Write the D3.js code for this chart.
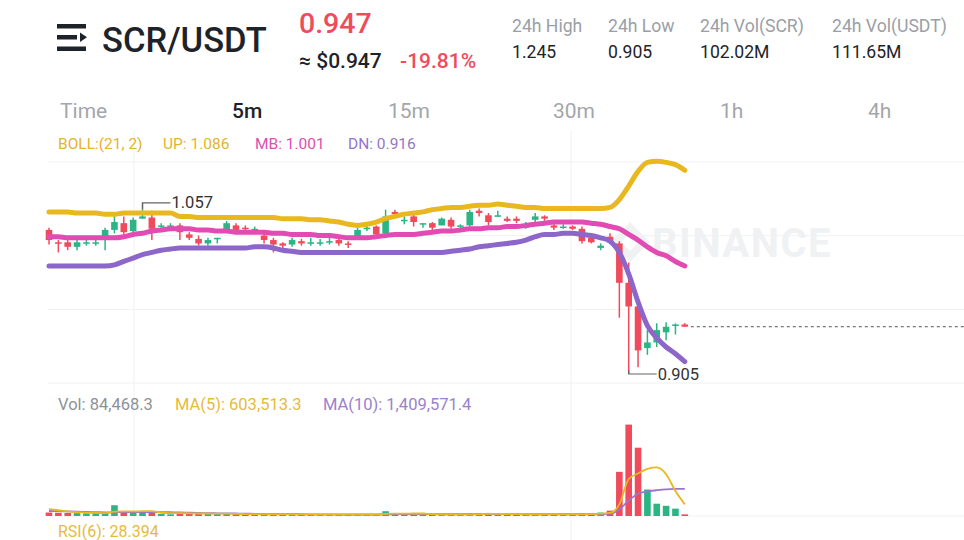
<!DOCTYPE html>
<html>
<head>
<meta charset="utf-8">
<script src="https://cdn.jsdelivr.net/npm/d3@7"></script>
<style>
  body { margin: 0; background: #fff; }
  svg { display: block; font-family: Roboto, "Noto Sans", sans-serif; }
</style>
</head>
<body>
<div id="container"></div>
<script>
// candles, 5m, oldest -> newest
let open = [1.033, 1.022, 1.022, 1.018, 1.021, 1.021, 1.027, 1.033, 1.039, 1.032,
  1.043, 1.044, 1.036, 1.036, 1.037, 1.029, 1.025, 1.021, 1.025, 1.033,
  1.037, 1.035, 1.033, 1.028, 1.024, 1.021, 1.020, 1.023, 1.021, 1.021,
  1.022, 1.024, 1.021, 1.027, 1.034, 1.036, 1.030, 1.049, 1.041, 1.045,
  1.038, 1.039, 1.037, 1.042, 1.036, 1.037, 1.050, 1.046, 1.045, 1.043,
  1.043, 1.035, 1.042, 1.045, 1.037, 1.035, 1.036, 1.034, 1.026, 1.017,
  1.027, 1.021, 0.986, 0.965, 0.928, 0.933, 0.942, 0.948, 0.949]
let high = [1.035, 1.024, 1.024, 1.024, 1.024, 1.024, 1.035, 1.046, 1.045, 1.044,
  1.057, 1.050, 1.039, 1.039, 1.039, 1.031, 1.028, 1.026, 1.026, 1.041,
  1.039, 1.037, 1.036, 1.030, 1.026, 1.022, 1.026, 1.025, 1.026, 1.025,
  1.026, 1.026, 1.023, 1.035, 1.037, 1.037, 1.051, 1.051, 1.045, 1.047,
  1.039, 1.040, 1.044, 1.044, 1.038, 1.051, 1.052, 1.048, 1.050, 1.045,
  1.045, 1.040, 1.048, 1.046, 1.039, 1.038, 1.037, 1.036, 1.028, 1.021,
  1.030, 1.023, 1.004, 0.966, 0.944, 0.950, 0.951, 0.950, 0.950]
let low = [1.020, 1.013, 1.015, 1.015, 1.019, 1.019, 1.015, 1.030, 1.029, 1.031,
  1.043, 1.024, 1.035, 1.034, 1.024, 1.024, 1.019, 1.019, 1.021, 1.031,
  1.031, 1.033, 1.031, 1.021, 1.013, 1.015, 1.018, 1.019, 1.019, 1.019,
  1.020, 1.019, 1.017, 1.025, 1.032, 1.027, 1.029, 1.045, 1.038, 1.036,
  1.035, 1.033, 1.037, 1.034, 1.035, 1.036, 1.045, 1.037, 1.045, 1.040,
  1.039, 1.034, 1.040, 1.041, 1.033, 1.034, 1.033, 1.021, 1.021, 1.015,
  1.021, 0.955, 0.905, 0.911, 0.922, 0.929, 0.935, 0.940, 0.947]
let close = [1.024, 1.021, 1.018, 1.022, 1.022, 1.022, 1.033, 1.040, 1.031, 1.042,
  1.045, 1.034, 1.037, 1.037, 1.031, 1.026, 1.021, 1.024, 1.026, 1.039,
  1.033, 1.034, 1.034, 1.024, 1.020, 1.019, 1.024, 1.021, 1.022, 1.022,
  1.023, 1.021, 1.020, 1.033, 1.035, 1.029, 1.045, 1.047, 1.042, 1.040,
  1.039, 1.035, 1.043, 1.036, 1.037, 1.049, 1.048, 1.040, 1.046, 1.041,
  1.041, 1.037, 1.045, 1.043, 1.035, 1.036, 1.034, 1.023, 1.022, 1.019,
  1.022, 0.986, 0.965, 0.926, 0.933, 0.944, 0.947, 0.949, 0.947]

// BOLL(21, 2)
let bollUp = [1.049, 1.049, 1.049, 1.048, 1.048, 1.048, 1.047, 1.047, 1.048, 1.048,
  1.048, 1.048, 1.048, 1.048, 1.045, 1.045, 1.044, 1.044, 1.044, 1.044,
  1.044, 1.044, 1.044, 1.044, 1.044, 1.043, 1.043, 1.043, 1.042, 1.042,
  1.041, 1.040, 1.038, 1.037, 1.038, 1.040, 1.043, 1.045, 1.047, 1.048,
  1.049, 1.051, 1.052, 1.053, 1.053, 1.054, 1.055, 1.055, 1.056, 1.055,
  1.054, 1.053, 1.053, 1.052, 1.052, 1.052, 1.052, 1.052, 1.052, 1.052,
  1.053, 1.060, 1.072, 1.085, 1.093, 1.094, 1.093, 1.091, 1.086]
let bollMb = [1.027, 1.027, 1.026, 1.026, 1.026, 1.026, 1.026, 1.026, 1.027, 1.029,
  1.030, 1.032, 1.033, 1.034, 1.034, 1.034, 1.033, 1.033, 1.032, 1.032,
  1.031, 1.031, 1.031, 1.031, 1.030, 1.030, 1.029, 1.029, 1.029, 1.028,
  1.028, 1.027, 1.026, 1.026, 1.026, 1.027, 1.028, 1.029, 1.029, 1.029,
  1.030, 1.031, 1.032, 1.032, 1.033, 1.034, 1.034, 1.035, 1.035, 1.036,
  1.036, 1.037, 1.038, 1.039, 1.040, 1.040, 1.040, 1.040, 1.039, 1.038,
  1.036, 1.034, 1.029, 1.024, 1.018, 1.013, 1.010, 1.005, 1.001]
let bollDn = [1.001, 1.001, 1.001, 1.001, 1.001, 1.001, 1.001, 1.002, 1.005, 1.008,
  1.011, 1.013, 1.015, 1.016, 1.017, 1.017, 1.017, 1.017, 1.017, 1.017,
  1.017, 1.017, 1.018, 1.018, 1.017, 1.015, 1.014, 1.013, 1.013, 1.013,
  1.013, 1.013, 1.013, 1.013, 1.013, 1.013, 1.013, 1.013, 1.013, 1.013,
  1.013, 1.013, 1.013, 1.014, 1.015, 1.016, 1.018, 1.019, 1.020, 1.021,
  1.022, 1.024, 1.027, 1.029, 1.029, 1.030, 1.030, 1.029, 1.028, 1.026,
  1.023, 1.013, 0.994, 0.969, 0.948, 0.937, 0.929, 0.923, 0.916]

// volume + MA(5) / MA(10)
let volume = [180000, 170000, 160000, 150000, 140000, 150000, 160000, 560000, 170000, 160000,
  180000, 200000, 110000, 90000, 170000, 150000, 140000, 120000, 110000, 130000,
  100000, 70000, 60000, 90000, 110000, 90000, 80000, 70000, 60000, 70000,
  60000, 90000, 60000, 80000, 60000, 70000, 250000, 120000, 90000, 110000,
  70000, 60000, 50000, 90000, 60000, 120000, 110000, 160000, 80000, 60000,
  90000, 60000, 110000, 70000, 110000, 60000, 60000, 140000, 120000, 180000,
  280000, 2300000, 4760000, 3558148, 1380000, 640000, 530000, 383098, 84468.3]
let volMa5 = [360000, 300000, 240000, 200000, 175000, 160000, 150000, 230000, 240000, 240000,
  250000, 250000, 170000, 150000, 150000, 140000, 130000, 130000, 120000, 120000,
  110000, 100000, 95000, 90000, 90000, 85000, 85000, 85000, 80000, 75000,
  70000, 70000, 70000, 70000, 70000, 70000, 110000, 120000, 120000, 130000,
  130000, 90000, 80000, 70000, 70000, 75000, 85000, 110000, 110000, 100000,
  100000, 90000, 80000, 80000, 90000, 80000, 80000, 90000, 100000, 120000,
  160000, 604000, 1928000, 2215600, 2455600, 2527600, 2173600, 1298200, 603513.3]
let volMa10 = [260000, 250000, 240000, 225000, 210000, 200000, 190000, 195000, 200000, 200000,
  205000, 205000, 200000, 195000, 190000, 175000, 160000, 150000, 140000, 135000,
  130000, 120000, 115000, 110000, 105000, 100000, 95000, 90000, 88000, 85000,
  82000, 80000, 78000, 78000, 78000, 78000, 88000, 95000, 95000, 100000,
  100000, 100000, 100000, 100000, 100000, 100000, 100000, 100000, 95000, 90000,
  90000, 90000, 90000, 90000, 90000, 90000, 90000, 90000, 90000, 100000,
  120000, 343000, 808000, 1157000, 1284000, 1342000, 1389000, 1413000, 1409571.4]

let tabs = ['Time', '5m', '15m', '30m', '1h', '4h'],
  stats = [['24h High', '1.245'], ['24h Low', '0.905'], ['24h Vol(SCR)', '102.02M'], ['24h Vol(USDT)', '111.65M']]

let width = 964, height = 540,
  up = '#2bb585', down = '#ef4b5c',
  cYel = '#e8b81e', cPink = '#e14bb3', cPur = '#8c66c8'

let svg = d3.select('#container').append('svg')
  .attr('width', width).attr('height', height)

// ---- header ----
let icon = svg.append('g').attr('fill', '#1e2329')
icon.append('rect').attr('x', 57).attr('y', 24).attr('width', 29).attr('height', 4.5)
icon.append('rect').attr('x', 57).attr('y', 35).attr('width', 20).attr('height', 4.5)
icon.append('path').attr('d', 'M80,32.5 L87,37.3 L80,42 Z')
icon.append('rect').attr('x', 57).attr('y', 46.5).attr('width', 29).attr('height', 4.5)

svg.append('text').attr('x', 102).attr('y', 52).text('SCR/USDT')
  .attr('font-size', 34.5).attr('font-weight', 500).attr('fill', '#1e2329')
svg.append('text').attr('x', 299).attr('y', 33).text('0.947')
  .attr('font-size', 28.5).attr('font-weight', 500).attr('fill', down)
svg.append('text').attr('x', 299).attr('y', 68).text('≈ $0.947')
  .attr('font-size', 21).attr('font-weight', 500).attr('fill', '#1e2329')
svg.append('text').attr('x', 400).attr('y', 68).text('-19.81%')
  .attr('font-size', 21).attr('font-weight', 500).attr('fill', down)

let statX = [512, 608, 700, 832]
stats.forEach(function (s, i) {
  svg.append('text').attr('x', statX[i]).attr('y', 32).text(s[0])
    .attr('font-size', 17.6).attr('fill', '#9aa0a6')
  svg.append('text').attr('x', statX[i]).attr('y', 58).text(s[1])
    .attr('font-size', 17.6).attr('fill', '#1e2329')
})

let tabX = [60, 232, 388, 553, 720, 868]
tabs.forEach(function (t, i) {
  svg.append('text').attr('x', tabX[i]).attr('y', 118).text(t)
    .attr('font-size', 21)
    .attr('font-weight', i === 1 ? 500 : 400)
    .attr('fill', i === 1 ? '#1e2329' : '#a3a6ab')
})

// ---- scales ----
let scale_x = d3.scaleLinear().domain([0, close.length - 1]).range([49, 684.8])
let scale_y = d3.scaleLinear().domain([0.897, 1.104]).range([383, 150])
let scale_v = d3.scaleLinear().domain([0, 5000000]).range([516, 420])

// grid
let grid = svg.append('g').attr('stroke', '#f0f1f2').attr('stroke-width', 1)
d3.range(4).forEach(function (k) {
  let gy = 162 + k * 73.7
  grid.append('line').attr('x1', 48).attr('x2', width).attr('y1', gy).attr('y2', gy)
})
grid.append('line').attr('x1', 48).attr('x2', width).attr('y1', 516).attr('y2', 516)
;[134, 571].forEach(function (gx) {
  grid.append('line').attr('x1', gx).attr('x2', gx).attr('y1', 130).attr('y2', height)
})

// watermark
let wm = svg.append('g').attr('fill', '#f0f1f3')
wm.append('path').attr('d', 'M630,222 L650,242 L630,262 L610,242 Z M630,233 L639,242 L630,251 L621,242 Z')
  .attr('fill-rule', 'evenodd')
wm.append('text').attr('x', 652).attr('y', 257).text('BINANCE')
  .attr('font-size', 40).attr('font-weight', 700).attr('letter-spacing', 1.5)

// BOLL legend
let legend = [['BOLL:(21, 2)', 58, '#e2b52a'], ['UP: 1.086', 163, '#e2b52a'],
  ['MB: 1.001', 255, '#db4fae'], ['DN: 0.916', 348, '#9277c8']]
legend.forEach(function (l) {
  svg.append('text').attr('x', l[1]).attr('y', 149).text(l[0])
    .attr('font-size', 15.5).attr('fill', l[2])
})

// bands
let idx = d3.range(close.length)
let band = function (arr) {
  return d3.line().x(function (i) { return scale_x(i) })
    .y(function (i) { return scale_y(arr[i]) })
    .curve(d3.curveMonotoneX)(idx)
}

// candles
let cg = svg.append('g')
idx.forEach(function (i) {
  let c = close[i] >= open[i] ? up : down
  if (close[i] === open[i]) c = i > 0 && close[i] < close[i - 1] ? down : up
  let x = scale_x(i)
  cg.append('line').attr('x1', x).attr('x2', x)
    .attr('y1', scale_y(high[i])).attr('y2', scale_y(low[i]))
    .attr('stroke', c).attr('stroke-width', 1.5)
  let y0 = scale_y(Math.max(open[i], close[i])), y1 = scale_y(Math.min(open[i], close[i]))
  cg.append('rect').attr('x', x - 3.3).attr('width', 6.6)
    .attr('y', y0).attr('height', Math.max(1.5, y1 - y0)).attr('fill', c)
})

svg.append('path').attr('d', band(bollUp)).attr('fill', 'none')
  .attr('stroke', cYel).attr('stroke-width', 5).attr('stroke-linecap', 'round')
svg.append('path').attr('d', band(bollMb)).attr('fill', 'none')
  .attr('stroke', cPink).attr('stroke-width', 5).attr('stroke-linecap', 'round')
svg.append('path').attr('d', band(bollDn)).attr('fill', 'none')
  .attr('stroke', cPur).attr('stroke-width', 5).attr('stroke-linecap', 'round')

// high / low markers
let hiI = high.indexOf(d3.max(high)), loI = low.indexOf(d3.min(low))
let mk = svg.append('g').attr('stroke', '#666').attr('fill', 'none').attr('stroke-width', 1.2)
mk.append('path').attr('d', 'M' + scale_x(hiI) + ',' + (scale_y(high[hiI]) + 6) +
  ' V' + scale_y(high[hiI]) + ' H' + (scale_x(hiI) + 28))
mk.append('path').attr('d', 'M' + scale_x(loI) + ',' + (scale_y(low[loI]) - 4) +
  ' V' + scale_y(low[loI]) + ' H' + (scale_x(loI) + 28))
svg.append('text').attr('x', scale_x(hiI) + 29).attr('y', scale_y(high[hiI]) + 5)
  .text(d3.format('.3f')(high[hiI])).attr('font-size', 16.5).attr('fill', '#333')
svg.append('text').attr('x', scale_x(loI) + 29).attr('y', scale_y(low[loI]) + 6)
  .text(d3.format('.3f')(low[loI])).attr('font-size', 16.5).attr('fill', '#333')

// last price line
let last = close[close.length - 1]
svg.append('line').attr('x1', scale_x(close.length - 1) + 6).attr('x2', width)
  .attr('y1', scale_y(last)).attr('y2', scale_y(last))
  .attr('stroke', '#555').attr('stroke-width', 1).attr('stroke-dasharray', '3,3')

// ---- volume panel ----
let volLegend = [['Vol: 84,468.3', 58, '#8e9297'], ['MA(5): 603,513.3', 175, '#e6bb3a'],
  ['MA(10): 1,409,571.4', 323, '#9a82cc']]
volLegend.forEach(function (l) {
  svg.append('text').attr('x', l[1]).attr('y', 410).text(l[0])
    .attr('font-size', 16.5).attr('fill', l[2])
})

let vg = svg.append('g')
idx.forEach(function (i) {
  let c = close[i] >= open[i] ? up : down
  let x = scale_x(i)
  vg.append('rect').attr('x', x - 3.3).attr('width', 6.6)
    .attr('y', scale_v(volume[i])).attr('height', scale_v(0) - scale_v(volume[i]))
    .attr('fill', c)
})

let volLine = function (arr) {
  return d3.line().x(function (i) { return scale_x(i) })
    .y(function (i) { return scale_v(arr[i]) })
    .curve(d3.curveMonotoneX)(idx)
}
svg.append('path').attr('d', volLine(volMa10)).attr('fill', 'none')
  .attr('stroke', '#9a74d0').attr('stroke-width', 1.8)
svg.append('path').attr('d', volLine(volMa5)).attr('fill', 'none')
  .attr('stroke', cYel).attr('stroke-width', 1.8)

svg.append('text').attr('x', 58).attr('y', 537).text('RSI(6): 28.394')
  .attr('font-size', 16).attr('fill', '#e6bb3a')
</script>
</body>
</html>
